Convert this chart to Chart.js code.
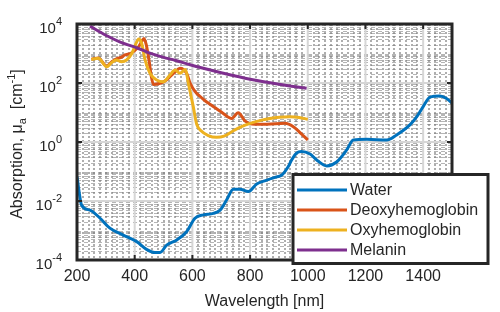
<!DOCTYPE html>
<html>
<head>
<meta charset="utf-8">
<script src="https://cdn.jsdelivr.net/npm/chart.js@4.4.1/dist/chart.umd.min.js"></script>
<style>
  html, body { margin: 0; padding: 0; background: #fff; }
  #wrap { width: 500px; height: 312px; }
</style>
</head>
<body>
<div id="wrap"><canvas id="absChart" width="500" height="312"></canvas></div>
<script>
// --- DATA (mu_a in cm^-1) ---
const waterNm  = [200, 216, 245, 280, 314, 360, 407, 441, 470, 488, 511, 546, 580, 609, 638, 673, 696, 719, 742, 765, 794, 823, 858, 892, 910, 932, 944, 961, 978, 1008, 1031, 1066, 1100, 1135, 1158, 1204, 1274, 1308, 1354, 1378, 1400, 1424, 1458, 1481, 1500];
const waterMua = [0.066, 0.0072, 0.0049, 0.0026, 0.0012, 0.0007, 0.00042, 0.00023, 0.00018, 0.00018, 0.00032, 0.00048, 0.00091, 0.0026, 0.0034, 0.0038, 0.0049, 0.011, 0.025, 0.025, 0.021, 0.038, 0.051, 0.066, 0.076, 0.145, 0.245, 0.42, 0.48, 0.39, 0.245, 0.155, 0.21, 0.54, 1.17, 1.23, 1.17, 1.74, 3.8, 7.2, 15.8, 33, 36, 30, 21];

const deoxyNm  = [250, 274, 303, 320, 337, 355, 366, 385, 400, 415, 425, 432, 440, 450, 458, 465, 488, 510, 540, 557, 580, 592, 609, 626, 644, 661, 685, 707, 736, 759, 782, 806, 858, 921, 950, 975, 1000];
const deoxyMua = [645, 708, 372, 513, 661, 759, 891, 1000, 1259, 1778, 2630, 3236, 1995, 562, 158, 89, 98, 126, 240, 316, 214, 100, 52, 35.5, 25, 19, 13.2, 9.3, 6.3, 9.8, 5.2, 4.1, 4.0, 4.3, 3.3, 2.0, 1.17];

const oxyNm  = [250, 274, 303, 320, 337, 355, 372, 390, 405, 414, 424, 436, 453, 476, 499, 522, 540, 557, 576, 586, 603, 615, 630, 655, 684, 710, 742, 770, 800, 840, 869, 900, 938, 970, 1000];
const oxyMua = [631, 692, 355, 490, 603, 525, 603, 1000, 2239, 3090, 2239, 603, 214, 126, 110, 186, 275, 214, 288, 98, 15.8, 4.0, 2.4, 1.66, 1.45, 1.58, 2.4, 3.3, 4.3, 5.5, 6.3, 6.9, 7.2, 6.8, 5.9];

const melaninNm  = [245, 300, 350, 413, 450, 500, 540, 592, 638, 700, 800, 900, 996];
const melaninMua = [8500, 4170, 2450, 1480, 1050, 740, 590, 417, 316, 224, 135, 91, 66];

const seriesNames  = ['Water', 'Deoxyhemoglobin', 'Oxyhemoglobin', 'Melanin'];
const seriesColors = ['#0072BD', '#D95319', '#EDB120', '#7E2F8E'];
const xTickValues  = [200, 400, 600, 800, 1000, 1200, 1400];
const yTickExps    = [-4, -2, 0, 2, 4];

const FONT = "'Liberation Sans', Arial, sans-serif";
const INK = '#262626';

const toPoints = (xs, ys) => xs.map((x, i) => ({ x: x, y: ys[i] }));

// --- MATLAB-STYLE AXES: grid, box, tick labels, legend ---
const matlabAxes = {
    id: 'matlabAxes',
    beforeDatasetsDraw(chart) {
        const { ctx, chartArea: a, scales: { x, y } } = chart;
        ctx.save();
        ctx.beginPath();
        ctx.rect(a.left, a.top, a.right - a.left, a.bottom - a.top);
        ctx.clip();

        // minor grid (dashed)
        ctx.strokeStyle = 'rgba(120,120,120,0.6)';
        ctx.lineWidth = 2;
        ctx.setLineDash([2, 2]);
        ctx.beginPath();
        for (let nm = 220; nm < 1500; nm += 20) {
            if (nm % 200 === 0) continue;
            const px = Math.round(x.getPixelForValue(nm));
            ctx.moveTo(px, a.top); ctx.lineTo(px, a.bottom);
        }
        ctx.stroke();

        ctx.strokeStyle = 'rgba(120,120,120,0.55)';
        ctx.lineWidth = 1;
        ctx.setLineDash([4, 3]);
        ctx.beginPath();
        for (let e = -4; e < 4; e++) {
            for (let m = 1; m <= 9; m++) {
                if (m === 1 && e % 2 === 0) continue;
                const py = Math.round(y.getPixelForValue(m * Math.pow(10, e))) + 0.5;
                ctx.moveTo(a.left, py); ctx.lineTo(a.right, py);
            }
        }
        ctx.stroke();

        // major grid
        ctx.setLineDash([]);
        ctx.strokeStyle = '#d6d6d6';
        ctx.lineWidth = 2;
        ctx.beginPath();
        xTickValues.forEach(v => {
            const px = x.getPixelForValue(v);
            ctx.moveTo(px, a.top); ctx.lineTo(px, a.bottom);
        });
        yTickExps.forEach(e => {
            const py = y.getPixelForValue(Math.pow(10, e));
            ctx.moveTo(a.left, py); ctx.lineTo(a.right, py);
        });
        ctx.stroke();
        ctx.restore();
    },
    afterDatasetsDraw(chart) {
        const { ctx, chartArea: a, scales: { x, y } } = chart;
        ctx.save();

        // box + inward ticks
        ctx.strokeStyle = INK;
        ctx.lineWidth = 3;
        ctx.strokeRect(a.left, a.top, a.right - a.left, a.bottom - a.top);
        ctx.lineWidth = 2;
        ctx.beginPath();
        xTickValues.forEach(v => {
            const px = x.getPixelForValue(v);
            ctx.moveTo(px, a.bottom); ctx.lineTo(px, a.bottom - 5);
            ctx.moveTo(px, a.top); ctx.lineTo(px, a.top + 5);
        });
        yTickExps.forEach(e => {
            const py = y.getPixelForValue(Math.pow(10, e));
            ctx.moveTo(a.left, py); ctx.lineTo(a.left + 5, py);
            ctx.moveTo(a.right, py); ctx.lineTo(a.right - 5, py);
        });
        ctx.stroke();

        // y tick labels 10^n
        ctx.fillStyle = INK;
        ctx.textBaseline = 'alphabetic';
        ctx.textAlign = 'left';
        yTickExps.forEach(e => {
            const py = y.getPixelForValue(Math.pow(10, e));
            const expTxt = String(e);
            ctx.font = `11px ${FONT}`;
            const expW = ctx.measureText(expTxt).width;
            ctx.font = `15px ${FONT}`;
            const baseW = ctx.measureText('10').width;
            const x0 = a.left - 15 - expW - baseW;
            ctx.fillText('10', x0, py + 8.5);
            ctx.font = `11px ${FONT}`;
            ctx.fillText(expTxt, x0 + baseW, py + 1);
        });

        // y axis title: Absorption, mu_a [cm^-1]
        const parts = [
            { t: 'Absorption, \u03bc', size: 16, dy: 0 },
            { t: 'a', size: 11, dy: 4 },
            { t: '  [cm', size: 16, dy: 0 },
            { t: '-1', size: 11, dy: -7 },
            { t: ']', size: 16, dy: 0 }
        ];
        let total = 0;
        parts.forEach(p => { ctx.font = `${p.size}px ${FONT}`; p.w = ctx.measureText(p.t).width; total += p.w; });
        ctx.translate(22, (a.top + a.bottom) / 2 + 2);
        ctx.rotate(-Math.PI / 2);
        let cx = -total / 2;
        parts.forEach(p => {
            ctx.font = `${p.size}px ${FONT}`;
            ctx.fillText(p.t, cx, p.dy);
            cx += p.w;
        });
        ctx.restore();

        // legend box
        ctx.save();
        const lx = 293, ly = 174.5, lw = 195, lh = 89;
        ctx.fillStyle = '#fff';
        ctx.fillRect(lx, ly, lw, lh);
        ctx.strokeStyle = INK;
        ctx.lineWidth = 3;
        ctx.strokeRect(lx, ly, lw, lh);
        ctx.font = `16px ${FONT}`;
        ctx.textBaseline = 'middle';
        ctx.fillStyle = INK;
        chart.data.datasets.forEach((ds, i) => {
            const ry = 190 + i * 20;
            ctx.strokeStyle = ds.borderColor;
            ctx.lineWidth = 3;
            ctx.beginPath();
            ctx.moveTo(297, ry); ctx.lineTo(347, ry);
            ctx.stroke();
            ctx.fillText(ds.label, 350, ry + 1);
        });
        ctx.restore();
    }
};

const seriesData = [
    toPoints(waterNm, waterMua),
    toPoints(deoxyNm, deoxyMua),
    toPoints(oxyNm, oxyMua),
    toPoints(melaninNm, melaninMua)
];

new Chart(document.getElementById('absChart'), {
    type: 'line',
    data: {
        datasets: seriesNames.map((name, i) => ({
            label: name,
            data: seriesData[i],
            borderColor: seriesColors[i],
            backgroundColor: seriesColors[i],
            borderWidth: 3,
            pointRadius: 0,
            cubicInterpolationMode: 'monotone',
            fill: false,
            order: seriesNames.length - i
        }))
    },
    options: {
        responsive: false,
        animation: false,
        layout: { padding: { top: 24, right: 48, left: 0, bottom: 0 } },
        plugins: { legend: { display: false }, tooltip: { enabled: false } },
        scales: {
            x: {
                type: 'linear',
                min: 200,
                max: 1500,
                afterFit: s => { s.height = 52; },
                afterBuildTicks: s => { s.ticks = xTickValues.map(v => ({ value: v })); },
                grid: { display: false, drawTicks: false },
                border: { display: false },
                ticks: {
                    autoSkip: false,
                    maxRotation: 0,
                    padding: 7,
                    color: INK,
                    font: { family: FONT, size: 16 },
                    callback: v => String(v)
                },
                title: {
                    display: true,
                    text: 'Wavelength [nm]',
                    color: INK,
                    font: { family: FONT, size: 16 },
                    padding: { top: 0, bottom: 1 }
                }
            },
            y: {
                type: 'logarithmic',
                min: 1e-4,
                max: 1e4,
                afterFit: s => { s.width = 77; },
                grid: { display: false, drawTicks: false },
                border: { display: false },
                ticks: { display: false }
            }
        }
    },
    plugins: [matlabAxes]
});
</script>
</body>
</html>
